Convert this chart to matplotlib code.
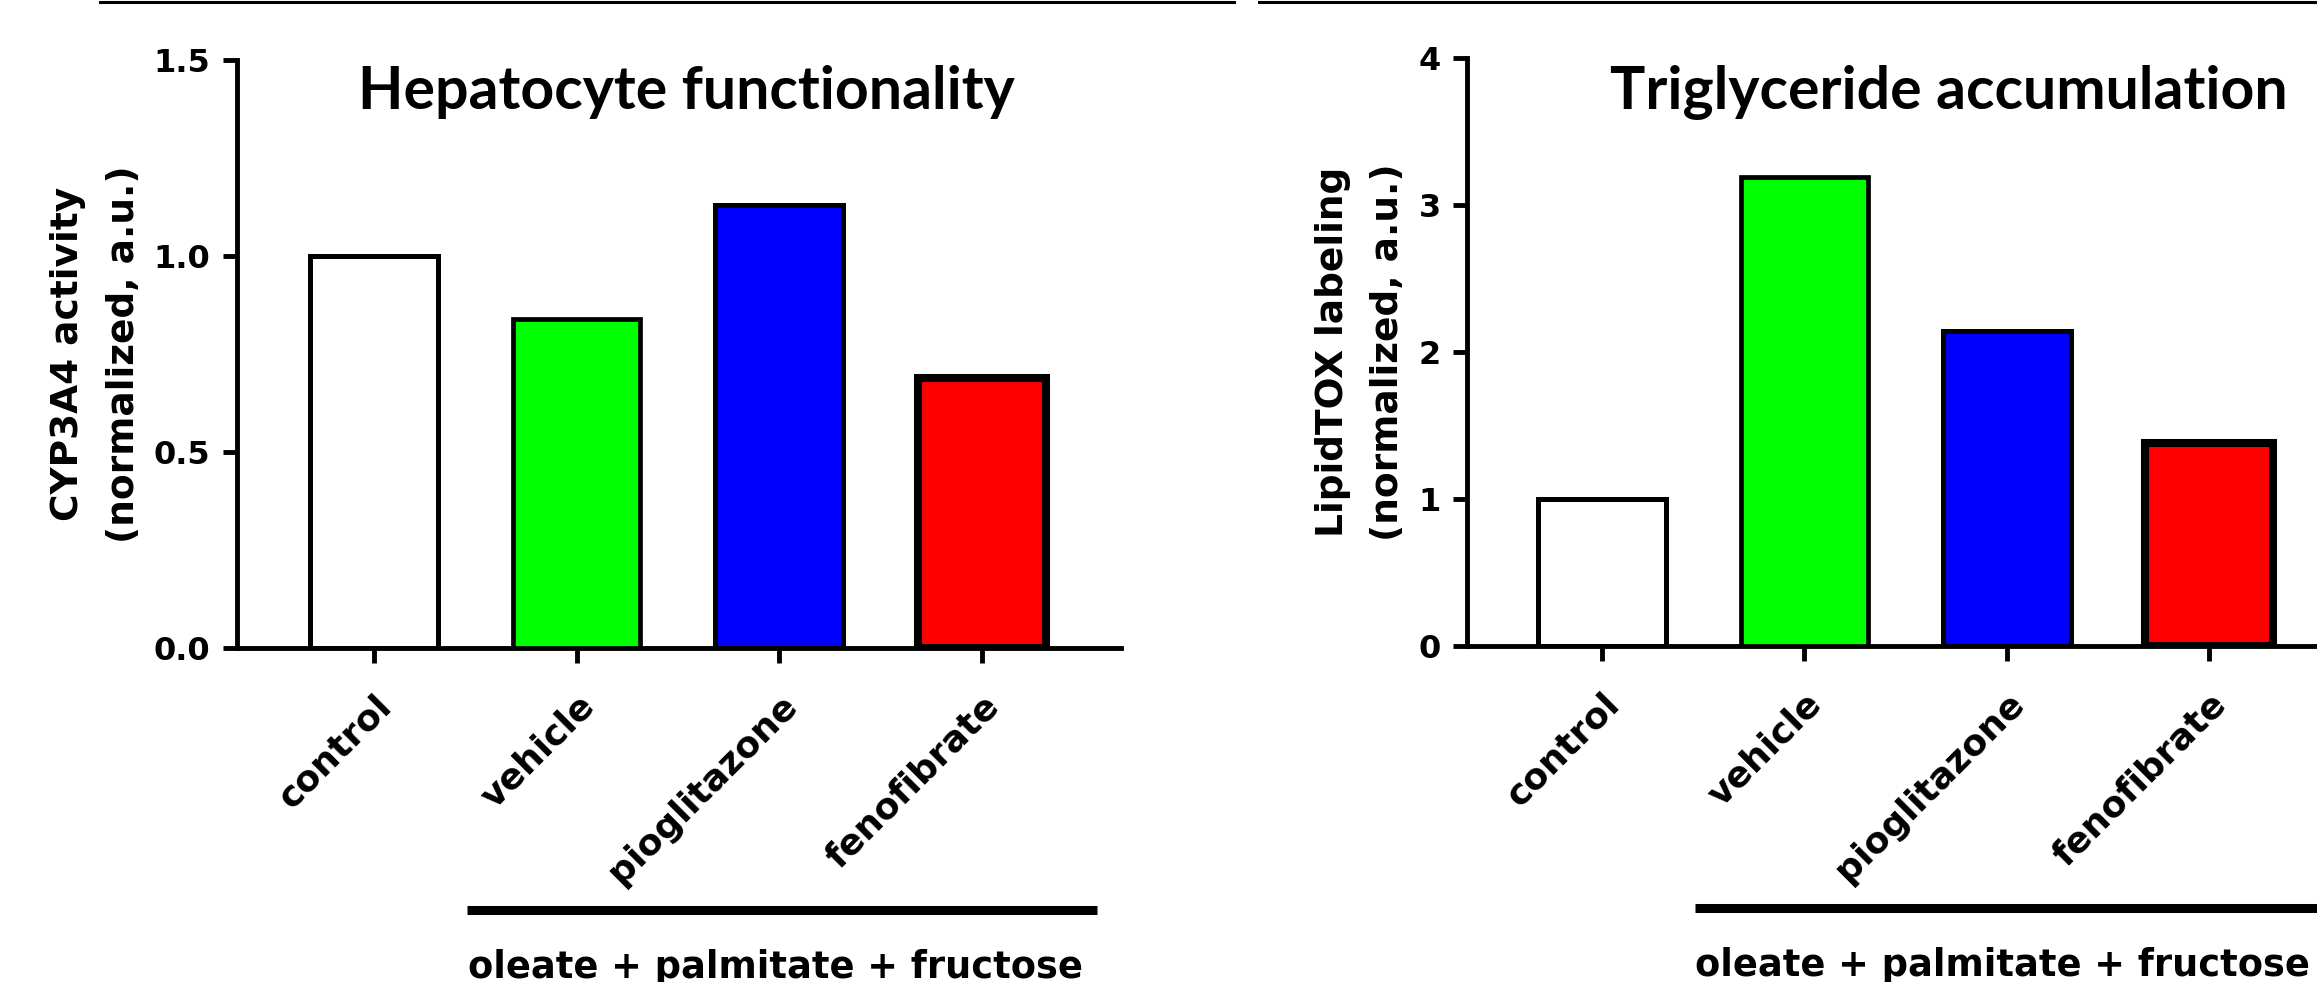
import numpy as np
import matplotlib
matplotlib.use('Agg')
import matplotlib.pyplot as plt
from matplotlib.lines import Line2D
from matplotlib.transforms import ScaledTranslation, blended_transform_factory

# values
categories = ['control', 'vehicle', 'pioglitazone', 'fenofibrate']
cyp3a4 = [1.00, 0.84, 1.13, 0.69]
lipidtox = [1.00, 3.19, 2.14, 1.38]
bar_colors = ['#ffffff', '#00ff00', '#0000ff', '#ff0000']
edge_widths = [3.6, 3.4, 3.6, 5.8]

cyp_ticks = [0.0, 0.5, 1.0, 1.5]
cyp_ticklabels = ['0.0', '0.5', '1.0', '1.5']
lipid_ticks = [0, 1, 2, 3, 4]
lipid_ticklabels = ['0', '1', '2', '3', '4']

treatment_label = 'oleate + palmitate + fructose'

W, H = 2317, 982
fig = plt.figure(figsize=(W / 100, H / 100), dpi=100)
fig.patch.set_facecolor('white')


# axes placed by pixel edges of the picture
def axes_px(left, right, top, bottom):
    return fig.add_axes([left / W, 1 - bottom / H, (right - left) / W, (bottom - top) / H])


def draw_panel(ax, values, ticks, ticklabels, ylabel, label_x, title, title_x):
    x = np.arange(len(categories))
    ax.bar(x, values, width=0.63, color=bar_colors, edgecolor='black',
           linewidth=edge_widths, zorder=3)

    for side in ['top', 'right']:
        ax.spines[side].set_visible(False)
    for side in ['left', 'bottom']:
        ax.spines[side].set_linewidth(3.5)

    ax.set_yticks(ticks)
    ax.set_yticklabels(ticklabels)
    ax.set_ylim(ticks[0], ticks[-1])
    ax.tick_params(axis='y', direction='out', length=10, width=3.5, pad=9,
                   labelsize=23)
    for lab in ax.get_yticklabels():
        lab.set_fontweight('bold')

    ax.set_xticks(x)
    ax.set_xticklabels(categories, rotation=45, ha='right', va='top',
                       rotation_mode='anchor', fontsize=26, fontweight='bold')
    ax.tick_params(axis='x', direction='out', length=11, width=3.5, pad=18)
    shift = ScaledTranslation(0.0, 0, fig.dpi_scale_trans)
    for lab in ax.get_xticklabels():
        lab.set_transform(lab.get_transform() + shift)

    ax.set_ylabel(ylabel, fontsize=27, fontweight='bold', linespacing=1.7,
                  va='center')
    ax.yaxis.set_label_coords(label_x, 0.5)

    # bar under the treated groups and the treatment text
    trans = blended_transform_factory(ax.transData, ax.transAxes)
    ax.plot([0.46, 3.57], [-0.446, -0.446], color='black', lw=6.5,
            solid_capstyle='butt', transform=trans, clip_on=False)
    ax.text(1.98, -0.562, treatment_label, transform=trans, ha='center',
            va='baseline', fontsize=26.5, fontweight='bold')

    fig.text(title_x / W, 1 - 109 / H, title, ha='center', va='baseline',
             fontsize=42.5, fontweight='bold', family='Lato')


ax1 = axes_px(237, 1121, 60, 648)
ax1.set_xlim(-0.676, 3.686)
draw_panel(ax1, cyp3a4, cyp_ticks, cyp_ticklabels,
           'CYP3A4 activity\n(normalized, a.u.)', -0.1595,
           'Hepatocyte functionality', 686)

ax2 = axes_px(1467, 2348, 58, 646)
ax2.set_xlim(-0.667, 3.686)
draw_panel(ax2, lipidtox, lipid_ticks, lipid_ticklabels,
           'LipidTOX labeling\n(normalized, a.u.)', -0.121,
           'Triglyceride accumulation', 1949)

# leftover panel borders along the top edge
for x0, x1 in [(100, 1234), (1259, 2317)]:
    fig.add_artist(Line2D([x0 / W, x1 / W], [1 - 1.5 / H, 1 - 1.5 / H],
                          color='black', lw=2.2, transform=fig.transFigure))

plt.savefig('out.png', dpi=100)
